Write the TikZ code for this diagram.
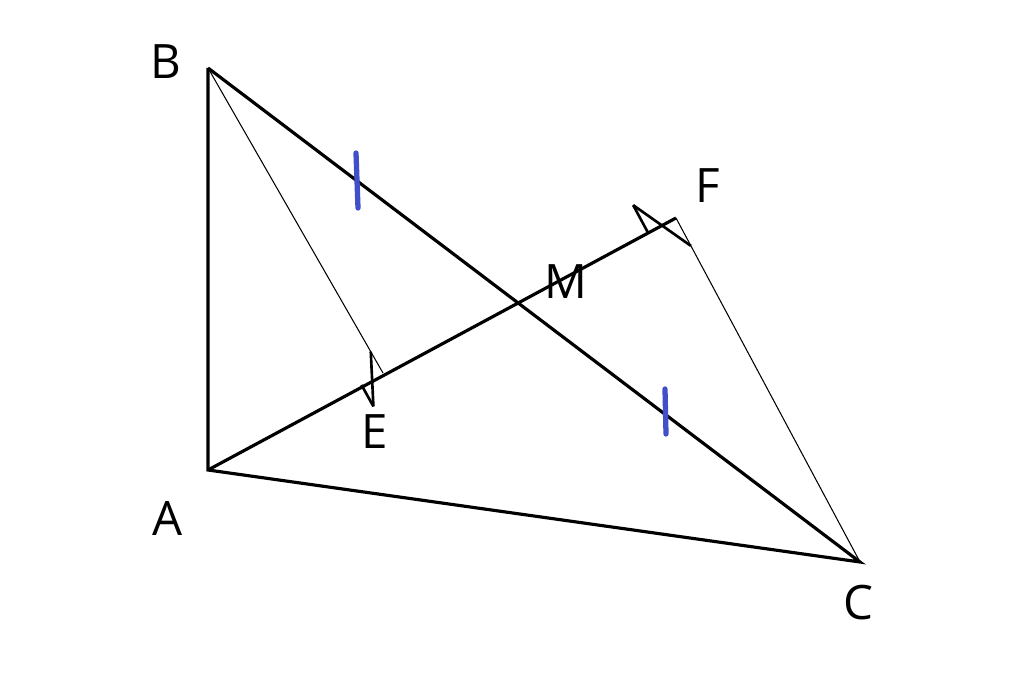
\documentclass[tikz,border=0pt]{standalone}
\usepackage{fontspec}
\setmainfont{Open Sans}
\usetikzlibrary{calc}
\begin{document}
\begin{tikzpicture}[x=0.02cm,y=-0.02cm,
  thickline/.style={line width=1.8pt,black},
  thinline/.style={line width=0.6pt,black},
  tick/.style={line width=3pt,color={rgb,255:red,65;green,80;blue,200},line cap=round},
  lab/.style={font=\fontsize{27}{30}\selectfont}]
\useasboundingbox (0,0) rectangle (1024,685);
\coordinate (B) at (208,68);
\coordinate (A) at (208,470);
\coordinate (C) at (860,562);
\coordinate (F) at (676,218);
\coordinate (M) at (522,303);
\coordinate (E) at (383,373);
\draw[thickline] (B) -- (A) -- (C) -- (B);
\draw[thickline] (A) -- (F);
\draw[thinline] (B) -- (E);
\draw[thinline] (F) -- (C);
% right angle marks
\draw[line width=1.5pt] ($(E)!14pt!(A)$) coordinate (e1) -- ($(e1)!14pt!90:(A)$) coordinate (e2);
\draw[line width=1.5pt] (e2) -- ($(E)!14pt!(B)$);
\draw[line width=1.5pt] ($(F)!18pt!(A)$) coordinate (f1) -- ($(f1)!18pt!-90:(A)$) coordinate (f2);
\draw[line width=1.5pt] (f2) -- ($(F)!18pt!(C)$);
\draw[tick] (356,153) -- (358,208);
\draw[tick] (665,389) -- (666,434);
\node[lab] (lB) at (166,62) {B};
\node[lab] (lA) at (168,518) {A};
\node[lab] (lC) at (858,603) {C};
\node[lab] (lF) at (708,186) {F};
\node[lab] (lM) at (566,282) {M};
\node[lab] (lE) at (375,432) {E};
\end{tikzpicture}
\end{document}
